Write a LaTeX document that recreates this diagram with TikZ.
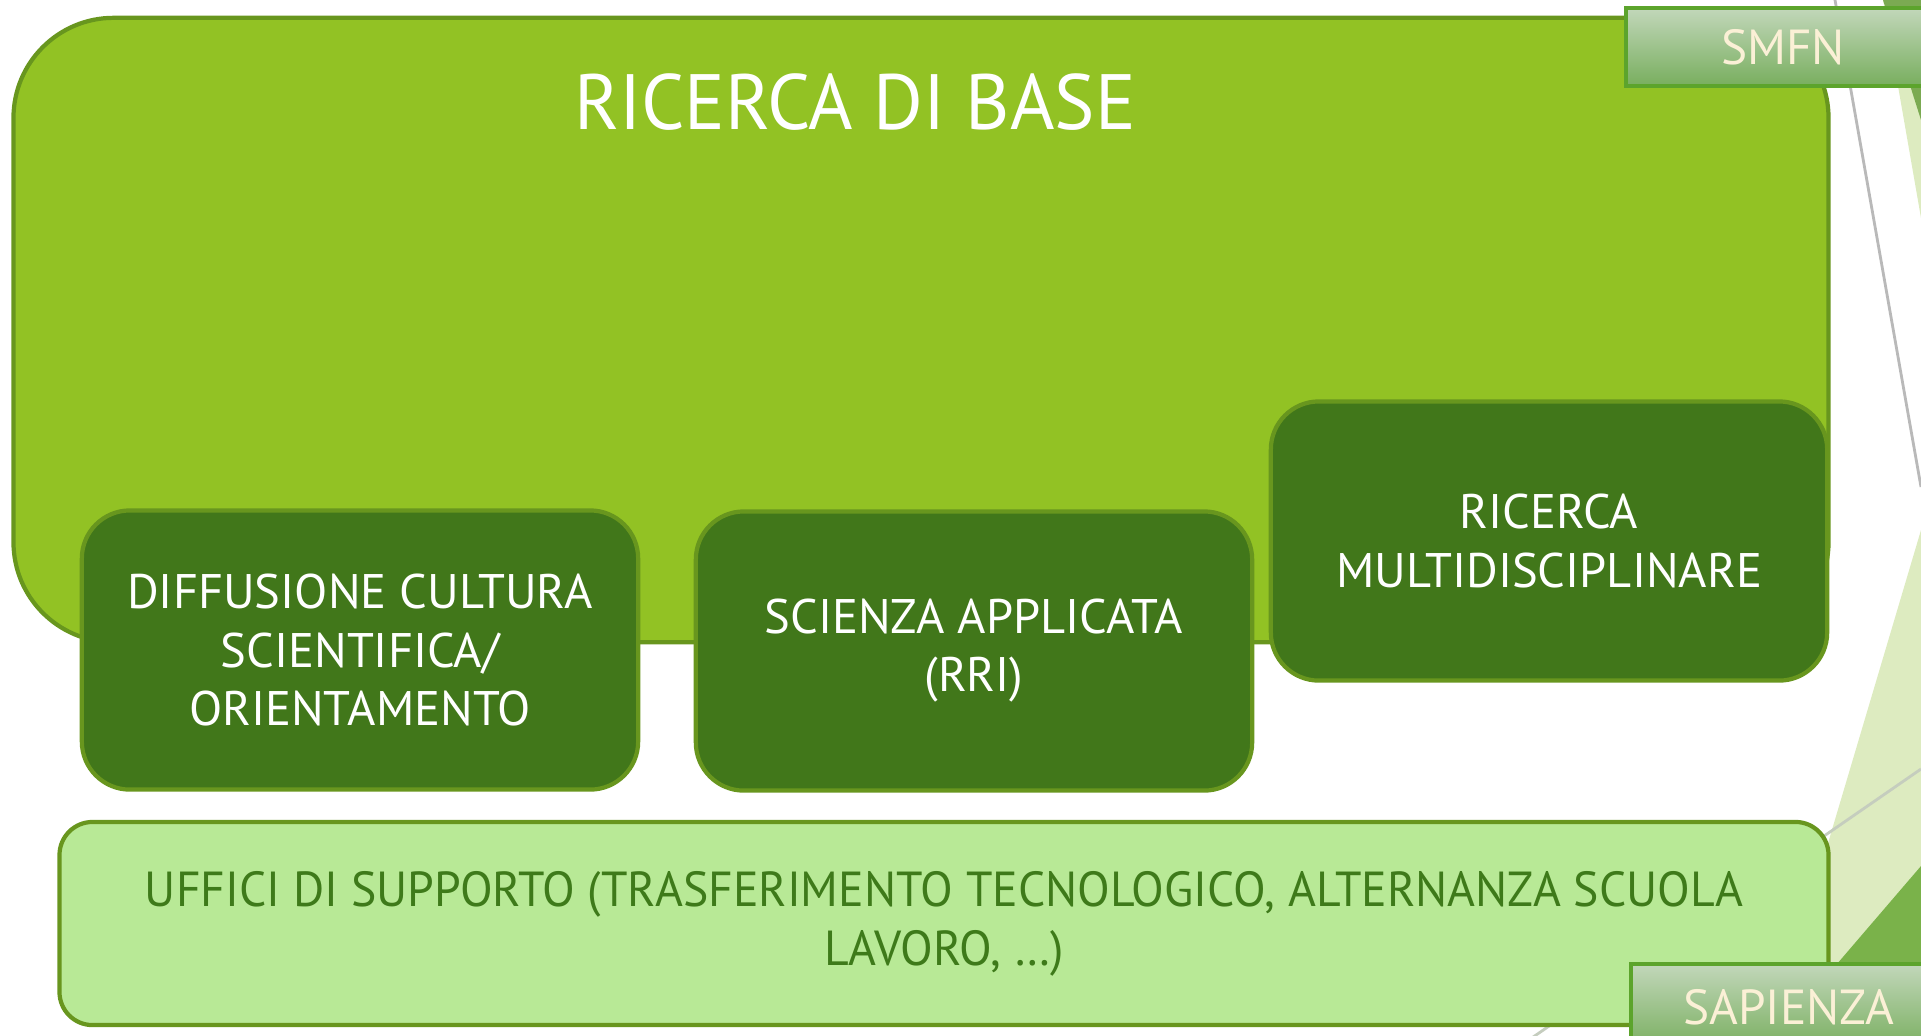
\documentclass[tikz,border=0pt]{standalone}
\usepackage{fontspec}
\setmainfont{PT Sans}
\newfontfamily\narrowfont{PT Sans}[FakeStretch=0.97]
\usetikzlibrary{positioning}
\definecolor{basegreen}{RGB}{146,194,36}
\definecolor{edgegreen}{RGB}{104,150,30}
\definecolor{darkgreen}{RGB}{65,119,26}
\definecolor{palegreen}{RGB}{184,233,150}
\definecolor{inkgreen}{RGB}{62,122,26}
\definecolor{tabtop}{RGB}{194,215,186}
\definecolor{tabbottom}{RGB}{120,174,94}
\definecolor{tabedge}{RGB}{92,164,44}
\definecolor{tabink}{RGB}{251,240,214}
\definecolor{facetlight}{RGB}{221,235,192}
\definecolor{facetdark}{RGB}{122,178,74}
\tikzset{
  areabox/.style={rectangle, rounded corners=0.48cm, draw=edgegreen, line width=1.2pt,
    fill=darkgreen, text=white, align=center, font=\fontsize{13.8}{16.5}\selectfont,
    minimum width=5.56cm, minimum height=2.79cm, inner sep=0pt},
  tabbox/.style={rectangle, draw=tabedge, line width=1.2pt, top color=tabtop,
    bottom color=tabbottom, text=tabink, font=\fontsize{14}{16}\selectfont, inner sep=0pt}
}

\begin{document}
\begin{tikzpicture}[x=0.01cm, y=-0.01cm]
    \useasboundingbox (0,0) rectangle (1921,1035);
    \clip (0,0) rectangle (1921,1035);
    % facets at the right edge
    \fill[facetlight] (1883,0) -- (1921,0) -- (1921,218) -- cycle;
    \fill[facetdark!85!gray] (1883,0) -- (1921,0) -- (1921,120) -- cycle;
    \fill[facetlight] (1921,530) -- (1771,1035) -- (1921,1035) -- cycle;
    \fill[facetdark] (1921,866) -- (1776,1035) -- (1921,1035) -- cycle;
    \coordinate (lineA) at (1835,0);
    \coordinate (lineB) at (1921,487);
    \coordinate (lineC) at (1921,769);
    \coordinate (lineD) at (1510,1053);
    \draw[gray!55, line width=0.8pt] (lineA) -- (lineB);
    \draw[facetdark!30!gray!45, line width=0.8pt] (lineC) -- (lineD);

    \node[rectangle, rounded corners=1cm, draw=edgegreen, line width=1.2pt, fill=basegreen,
      minimum width=18.14cm, minimum height=6.24cm] (base) at (921,330) {};
    \node[text=white, font=\narrowfont\fontsize{22.3}{26}\selectfont] (title) at (855,102) {RICERCA DI BASE};

    \node[areabox] (diffusione) at (360,650) {DIFFUSIONE CULTURA\\SCIENTIFICA/\\ORIENTAMENTO};
    \node[areabox] (scienza) at (974,651) {SCIENZA APPLICATA\\(RRI)};
    \node[areabox] (multi) at (1549,541) {RICERCA\\MULTIDISCIPLINARE};

    \node[rectangle, rounded corners=0.33cm, draw=edgegreen, line width=1.2pt, fill=palegreen,
      text=inkgreen, align=center, font=\narrowfont\fontsize{14}{16.8}\selectfont,
      minimum width=17.68cm, minimum height=2.03cm, inner sep=0pt] (uffici) at (944,923.5)
      {UFFICI DI SUPPORTO (TRASFERIMENTO TECNOLOGICO, ALTERNANZA SCUOLA\\LAVORO, \dots)};

    \node[tabbox, minimum width=3.14cm, minimum height=0.78cm] (smfn) at (1783,47) {SMFN};
    \node[tabbox, minimum width=3.16cm, minimum height=0.86cm] (sapienza) at (1789,1007) {SAPIENZA};
  \end{tikzpicture}
\end{document}
